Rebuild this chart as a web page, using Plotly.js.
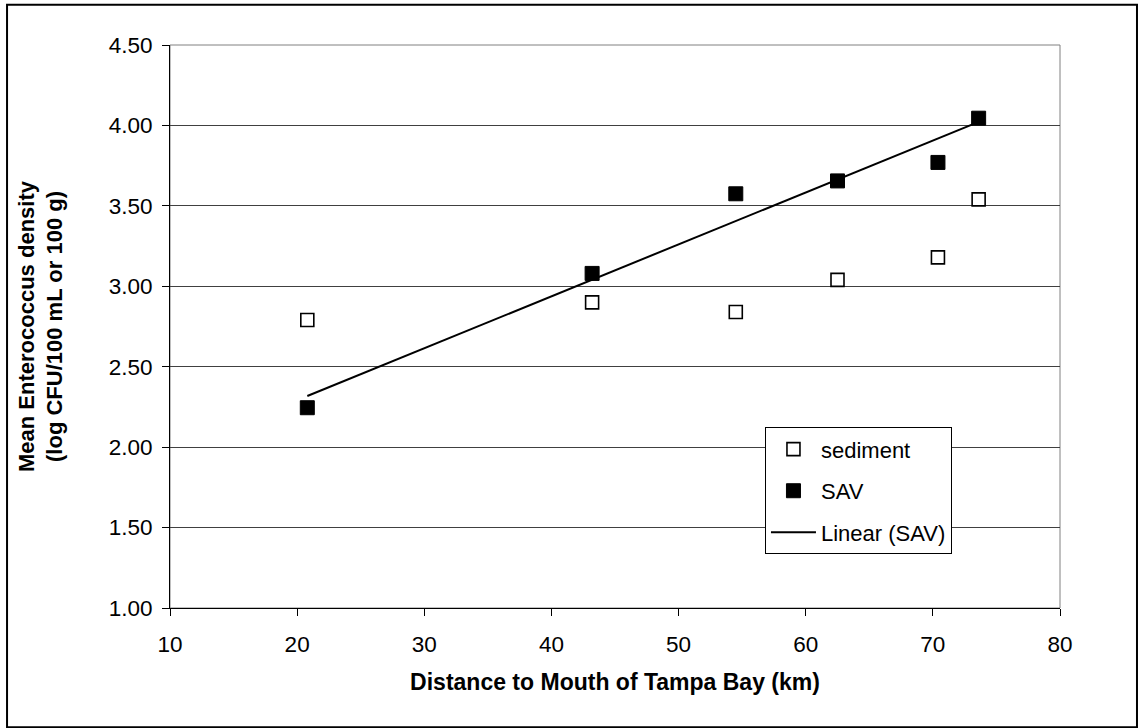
<!DOCTYPE html>
<html>
<head>
<meta charset="utf-8">
<script src="https://cdn.plot.ly/plotly-3.0.1.min.js"></script>
<style>html,body{margin:0;padding:0;background:#fff;}#chart{width:1139px;height:728px;}</style>
</head>
<body>
<div id="chart"></div>
<script>
// Data
const distanceKm = [20.8, 43.2, 54.5, 62.5, 70.4, 73.6];
const sedimentDensity = [2.79, 2.90, 2.84, 3.04, 3.18, 3.54];
const savDensity = [2.245, 3.08, 3.575, 3.655, 3.77, 4.045];
const yTickVals = [1.0, 1.5, 2.0, 2.5, 3.0, 3.5, 4.0, 4.5];
const yTickText = ['1.00', '1.50', '2.00', '2.50', '3.00', '3.50', '4.00', '4.50'];
const xTickVals = [10, 20, 30, 40, 50, 60, 70, 80];

// Least-squares linear trendline of SAV (as "Linear (SAV)")
function linearFit(xs, ys) {
  const n = xs.length;
  const mx = xs.reduce((a, b) => a + b, 0) / n;
  const my = ys.reduce((a, b) => a + b, 0) / n;
  let sxy = 0, sxx = 0;
  for (let i = 0; i < n; i++) { sxy += (xs[i] - mx) * (ys[i] - my); sxx += (xs[i] - mx) ** 2; }
  const slope = sxy / sxx;
  return { slope, intercept: my - slope * mx };
}
const fit = linearFit(distanceKm, savDensity);
const trendX = [Math.min(...distanceKm), Math.max(...distanceKm)];
const trendY = trendX.map(x => fit.intercept + fit.slope * x);

const FONT = 'Liberation Sans, Arial, sans-serif';

const traces = [
  {
    x: distanceKm, y: sedimentDensity, name: 'sediment', type: 'scatter', mode: 'markers',
    legendgroup: 'a',
    marker: { symbol: 'square', size: 13, color: '#ffffff', line: { color: '#000000', width: 1.6 } }
  },
  {
    x: distanceKm, y: savDensity, name: 'SAV', type: 'scatter', mode: 'markers',
    legendgroup: 'b',
    marker: { symbol: 'square', size: 14, color: '#000000', line: { color: '#000000', width: 1 } }
  },
  {
    x: trendX, y: trendY, name: 'Linear (SAV)', type: 'scatter', mode: 'lines',
    legendgroup: 'c',
    line: { color: '#000000', width: 2 }
  }
];

const layout = {
  width: 1139, height: 728,
  margin: { l: 170, r: 79, t: 44.5, b: 120.3, autoexpand: false },
  paper_bgcolor: '#ffffff', plot_bgcolor: '#ffffff',
  font: { family: FONT, color: '#000000', size: 22 },
  showlegend: true,
  legend: {
    x: 0.6685, y: 0.3209, xanchor: 'left', yanchor: 'top',
    bordercolor: '#000000', borderwidth: 1, bgcolor: '#ffffff',
    font: { family: FONT, size: 22, color: '#000000' },
    traceorder: 'grouped', tracegroupgap: 10, itemwidth: 45
  },
  xaxis: {
    range: [10, 80], tickvals: xTickVals, ticktext: xTickVals.map(String),
    showgrid: false, zeroline: false,
    showline: true, linecolor: '#000000', linewidth: 1,
    ticks: 'outside', ticklen: 7, tickcolor: '#000000', tickwidth: 1,
    ticklabelstandoff: 9,
    tickfont: { family: FONT, size: 22.5, color: '#000000' },
    title: { text: 'Distance to Mouth of Tampa Bay (km)', font: { family: FONT, size: 23, color: '#000000', weight: 'bold' }, standoff: 17 },
    automargin: false
  },
  yaxis: {
    range: [1, 4.5], tickvals: yTickVals, ticktext: yTickText,
    showgrid: true, gridcolor: '#404040', gridwidth: 1, zeroline: false,
    showline: true, linecolor: '#000000', linewidth: 1,
    ticks: 'outside', ticklen: 7, tickcolor: '#000000', tickwidth: 1,
    ticklabelstandoff: 5,
    tickfont: { family: FONT, size: 22.5, color: '#000000' },
    title: { text: 'Mean Enterococcus density<br>(log CFU/100 mL or 100 g)', font: { family: FONT, size: 22, color: '#000000', weight: 'bold' }, standoff: 39 },
    automargin: false
  },
  shapes: [
    { type: 'rect', xref: 'paper', yref: 'paper', x0: 0, x1: 1, y0: 0, y1: 1, line: { color: '#808080', width: 1 }, layer: 'below' },
    { type: 'rect', xref: 'paper', yref: 'paper', x0: -0.1831, x1: 1.0865, y0: -0.2118, y1: 1.0714, line: { color: '#000000', width: 2 }, layer: 'below' }
  ]
};

Plotly.newPlot('chart', traces, layout, { displayModeBar: false, staticPlot: true });
</script>
</body>
</html>
